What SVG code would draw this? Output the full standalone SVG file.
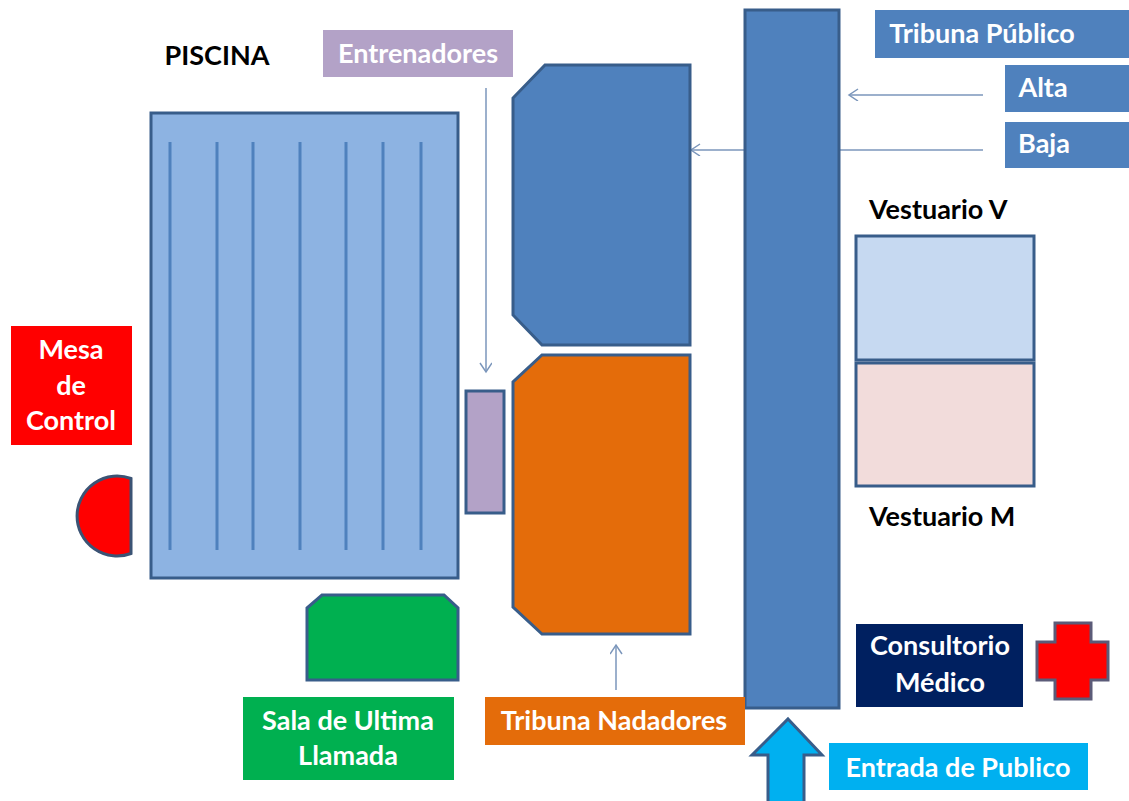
<svg xmlns="http://www.w3.org/2000/svg" width="1129" height="801" viewBox="0 0 1129 801">
<style>
.t{font-family:Lato,"Open Sans","Liberation Sans",sans-serif;font-weight:bold;font-size:27px;fill:#ffffff;text-anchor:middle}
.k{fill:#000000}
.s{stroke:#385d8a;stroke-width:3;stroke-linejoin:miter}
.blue{fill:#4f81bd}
.lane{stroke:#4f81bd;stroke-width:3}
.c{stroke:#7b96bb;stroke-width:1.5;fill:none}
</style>
<defs>
<marker id="ah" markerUnits="userSpaceOnUse" markerWidth="14" markerHeight="14" refX="10" refY="6" orient="auto">
<path d="M1,0 L10,6 L1,12" fill="none" stroke="#7b96bb" stroke-width="1.5"/>
</marker>
</defs>
<rect width="1129" height="801" fill="#ffffff"/>

<g id="connectors">
<line class="c" x1="486" y1="88" x2="486" y2="372" marker-end="url(#ah)"/>
<line class="c" x1="983" y1="95" x2="849" y2="95" marker-end="url(#ah)"/>
<line class="c" x1="983" y1="150" x2="691" y2="150" marker-end="url(#ah)"/>
<line class="c" x1="616" y1="690" x2="616" y2="645" marker-end="url(#ah)"/>
</g>

<g id="piscina-label"><text class="t k" x="217" y="65">PISCINA</text></g>

<g id="entrenadores">
<rect x="323" y="30" width="190" height="47" fill="#b3a2c7"/>
<text class="t" x="418" y="63">Entrenadores</text>
</g>

<g id="piscina">
<rect class="s" x="151" y="113" width="307" height="465" fill="#8db3e2"/>
<g class="lane">
<line x1="170" y1="142" x2="170" y2="550"/>
<line x1="217" y1="142" x2="217" y2="550"/>
<line x1="253" y1="142" x2="253" y2="550"/>
<line x1="300" y1="142" x2="300" y2="550"/>
<line x1="346" y1="142" x2="346" y2="550"/>
<line x1="383" y1="142" x2="383" y2="550"/>
<line x1="421" y1="142" x2="421" y2="550"/>
</g>
</g>

<g id="mesa-control">
<rect x="11" y="326" width="121" height="119" fill="#ff0000"/>
<text class="t" x="71" y="359">Mesa</text>
<text class="t" x="71" y="395">de</text>
<text class="t" x="71" y="430">Control</text>
</g>

<g id="semicirculo">
<path class="s" d="M131,478.5 A40,40 0 1 0 131,553.5 Z" fill="#ff0000" style="stroke:#3b5374"/>
</g>

<g id="entrenadores-banco">
<rect class="s" x="466" y="391" width="38" height="122" fill="#b3a2c7"/>
</g>

<g id="tribuna-publico-zona">
<polygon class="s blue" points="545,65 690,65 690,345 542,345 513,315 513,98"/>
</g>

<g id="tribuna-nadadores-zona">
<polygon class="s" points="542,355 690,355 690,634 542,634 513,607 513,382" fill="#e46c0a"/>
</g>

<g id="pasillo">
<rect class="s blue" x="745" y="10" width="94" height="698"/>
</g>

<g id="tribuna-publico">
<rect class="blue" x="875" y="10" width="260" height="48"/>
<text class="t" x="982" y="43">Tribuna Público</text>
</g>

<g id="alta">
<rect class="blue" x="1005" y="65" width="130" height="47"/>
<text class="t" x="1043" y="97">Alta</text>
</g>

<g id="baja">
<rect class="blue" x="1005" y="122" width="130" height="46"/>
<text class="t" x="1044" y="153">Baja</text>
</g>

<g id="vestuario-v">
<text class="t k" x="869" y="219" style="text-anchor:start">Vestuario V</text>
<rect class="s" x="856" y="236" width="178" height="124" fill="#c6d9f1"/>
</g>

<g id="vestuario-m">
<rect class="s" x="856" y="363" width="178" height="123" fill="#f2dcdb"/>
<text class="t k" x="869" y="526" style="text-anchor:start">Vestuario M</text>
</g>

<g id="sala-zona">
<polygon class="s" points="322,595 444,595 458,608 458,680 307,680 307,608" fill="#00b050"/>
</g>

<g id="sala-ultima-llamada">
<rect x="243" y="697" width="211" height="83" fill="#00b050"/>
<text class="t" x="348" y="730">Sala de Ultima</text>
<text class="t" x="348" y="765">Llamada</text>
</g>

<g id="tribuna-nadadores">
<rect x="485" y="697" width="260" height="48" fill="#e46c0a"/>
<text class="t" x="614" y="730">Tribuna Nadadores</text>
</g>

<g id="consultorio">
<rect x="856" y="624" width="167" height="83" fill="#002060"/>
<text class="t" x="940" y="655">Consultorio</text>
<text class="t" x="940" y="692">Médico</text>
</g>

<g id="cruz">
<polygon points="1055,623 1091,623 1091,642 1108,642 1108,680 1091,680 1091,699 1055,699 1055,680 1037,680 1037,642 1055,642" fill="#ff0000" stroke="#5b5b78" stroke-width="3"/>
</g>

<g id="flecha-entrada">
<polygon class="s" points="788,719 822,755 804,755 804,806 768,806 768,755 752,755" fill="#00b0f0"/>
</g>

<g id="entrada-publico">
<rect x="829" y="743" width="259" height="47" fill="#00b0f0"/>
<text class="t" x="958" y="777">Entrada de Publico</text>
</g>
</svg>
